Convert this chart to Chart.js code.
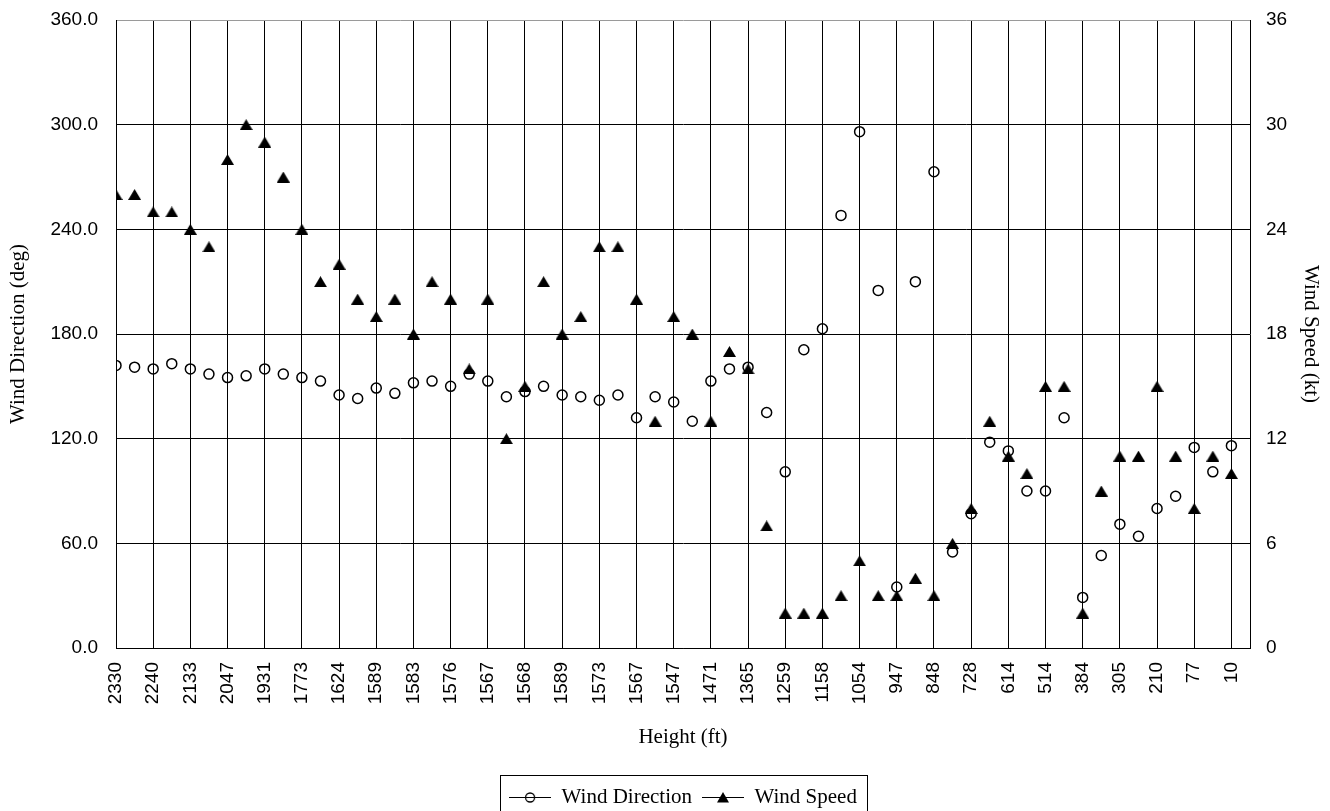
<!DOCTYPE html>
<html>
<head>
<meta charset="utf-8">
<title>Wind Direction / Wind Speed by Height</title>
<script src="https://cdn.jsdelivr.net/npm/chart.js@4.4.1/dist/chart.umd.min.js"></script>
<style>
    html, body { margin: 0; padding: 0; background: #fff; }
</style>
</head>
<body>
<canvas id="windChart" width="1330" height="811"></canvas>
<script>
// Labelled heights (ft) - only every other level carries a label on the axis
const heightTicks = [2330, 2240, 2133, 2047, 1931, 1773, 1624, 1589, 1583, 1576,
    1567, 1568, 1589, 1573, 1567, 1547, 1471, 1365, 1259, 1158,
    1054, 947, 848, 728, 614, 514, 384, 305, 210, 77, 10];

// Wind direction (deg), one value per level
const windDirection = [162, 161, 160, 163, 160, 157, 155, 156, 160, 157,
    155, 153, 145, 143, 149, 146, 152, 153, 150, 157,
    153, 144, 147, 150, 145, 144, 142, 145, 132, 144,
    141, 130, 153, 160, 161, 135, 101, 171, 183, 248,
    296, 205, 35, 210, 273, 55, 77, 118, 113, 90,
    90, 132, 29, 53, 71, 64, 80, 87, 115, 101,
    116];

// Wind speed (kt), one value per level
const windSpeed = [26, 26, 25, 25, 24, 23, 28, 30, 29, 27,
    24, 21, 22, 20, 19, 20, 18, 21, 20, 16,
    20, 12, 15, 21, 18, 19, 23, 23, 20, 13,
    19, 18, 13, 17, 16, 7, 2, 2, 2, 3,
    5, 3, 3, 4, 3, 6, 8, 13, 11, 10,
    15, 15, 2, 9, 11, 11, 15, 11, 8, 11,
    10];

const serif = { family: "'Liberation Serif', 'Times New Roman', serif", size: 21 };
const tickFont = { family: "'Liberation Sans', Arial, sans-serif", size: 19 };

// filled triangle marker, centred on its bounding box
function triangleMarker() {
    const c = document.createElement("canvas");
    c.width = 13; c.height = 11;
    const g = c.getContext("2d");
    g.fillStyle = "#000";
    g.beginPath();
    g.moveTo(6.5, 0);
    g.lineTo(13, 11);
    g.lineTo(0, 11);
    g.closePath();
    g.fill();
    return c;
}

// legend sample: short line with the marker in the middle
function legendIcon(kind) {
    const c = document.createElement("canvas");
    c.width = 42; c.height = 15;
    const g = c.getContext("2d");
    g.strokeStyle = "#000";
    g.lineWidth = 1;
    g.beginPath();
    g.moveTo(0, 7.5);
    g.lineTo(42, 7.5);
    g.stroke();
    if (kind === "circle") {
        g.lineWidth = 1.3;
        g.beginPath();
        g.arc(21, 7.5, 4.5, 0, Math.PI * 2);
        g.stroke();
    } else {
        g.fillStyle = "#000";
        g.beginPath();
        g.moveTo(21, 2);
        g.lineTo(27, 12.5);
        g.lineTo(15, 12.5);
        g.closePath();
        g.fill();
    }
    return c;
}

const legendIcons = [legendIcon("circle"), legendIcon("triangle")];

// draws the frame round the legend (it runs off the bottom edge, like the original)
const legendFrame = {
    id: "legendFrame",
    afterDraw(chart) {
        const boxes = chart.legend && chart.legend.legendHitBoxes;
        if (!boxes || !boxes.length) return;
        const first = boxes[0];
        const last = boxes[boxes.length - 1];
        const left = Math.round(first.left - 9) + 0.5;
        const right = Math.round(last.left + last.width + 10) + 0.5;
        const top = Math.round(first.top - 12) + 0.5;
        const ctx = chart.ctx;
        ctx.save();
        ctx.strokeStyle = "#000";
        ctx.lineWidth = 1;
        ctx.strokeRect(left, top, right - left, chart.height + 20 - top);
        ctx.restore();
    }
};

// fixed axis widths so the plot area sits where the original one does
function fixWidth(w) {
    return (s) => {
        s.width = w;
        s.paddingTop = 0;
        s.paddingBottom = 0;
    };
}

const ctx = document.getElementById("windChart");

new Chart(ctx, {
    type: "line",
    data: {
        datasets: [{
            label: "Wind Direction",
            data: windDirection.map((v, i) => ({ x: i, y: v })),
            yAxisID: "y",
            showLine: false,
            pointStyle: "circle",
            pointRadius: 5,
            pointBorderWidth: 1.5,
            pointBorderColor: "#000",
            pointBackgroundColor: "rgba(0,0,0,0)",
            borderColor: "#000",
            order: 1
        }, {
            label: "Wind Speed",
            data: windSpeed.map((v, i) => ({ x: i, y: v })),
            yAxisID: "y1",
            showLine: false,
            pointStyle: triangleMarker(),
            pointRadius: 7,
            borderColor: "#000",
            order: 0
        }]
    },
    options: {
        responsive: false,
        animation: false,
        events: [],
        devicePixelRatio: 1,
        layout: { padding: { top: 20, right: 0, bottom: -7, left: 0 } },
        plugins: {
            tooltip: { enabled: false },
            legend: {
                position: "bottom",
                fullSize: false,
                labels: {
                    font: serif,
                    color: "#000",
                    usePointStyle: true,
                    pointStyleWidth: 42,
                    padding: 10,
                    generateLabels: (chart) => chart.data.datasets.map((ds, i) => ({
                        text: ds.label,
                        pointStyle: legendIcons[i],
                        fillStyle: "rgba(0,0,0,0)",
                        strokeStyle: "rgba(0,0,0,0)",
                        lineWidth: 0,
                        fontColor: "#000",
                        hidden: false,
                        datasetIndex: i
                    }))
                }
            }
        },
        scales: {
            x: {
                type: "linear",
                min: 0,
                max: windSpeed.length,
                ticks: {
                    stepSize: 2,
                    includeBounds: false,
                    autoSkip: false,
                    minRotation: 90,
                    maxRotation: 90,
                    padding: 14,
                    font: tickFont,
                    color: "#000",
                    callback: (v) => {
                        const lbl = heightTicks[v / 2];
                        return lbl === undefined ? "" : String(lbl);
                    }
                },
                grid: { color: "#000", drawTicks: false },
                border: { color: "#000" },
                title: {
                    display: true,
                    text: "Height (ft)",
                    font: serif,
                    color: "#000",
                    padding: { top: 0, bottom: 27 }
                },
                afterFit: (s) => { s.height = 129; }
            },
            y: {
                position: "left",
                min: 0,
                max: 360,
                ticks: {
                    stepSize: 60,
                    padding: 18,
                    font: tickFont,
                    color: "#000",
                    callback: (v) => v.toFixed(1)
                },
                grid: {
                    color: (c) => (c.tick && c.tick.value === 360 ? "#9a9a9a" : "#000"),
                    drawTicks: false
                },
                border: { color: "#000" },
                title: {
                    display: true,
                    text: "Wind Direction (deg)",
                    font: serif,
                    color: "#000",
                    padding: { top: 6, bottom: 0 }
                },
                afterFit: fixWidth(116)
            },
            y1: {
                position: "right",
                min: 0,
                max: 36,
                ticks: {
                    stepSize: 6,
                    padding: 16,
                    font: tickFont,
                    color: "#000"
                },
                grid: { drawOnChartArea: false, drawTicks: false },
                border: { color: "#000" },
                title: {
                    display: true,
                    text: "Wind Speed (kt)",
                    font: serif,
                    color: "#000",
                    padding: { top: 7, bottom: 0 }
                },
                afterFit: fixWidth(80)
            }
        }
    },
    plugins: [legendFrame]
});
</script>
</body>
</html>
